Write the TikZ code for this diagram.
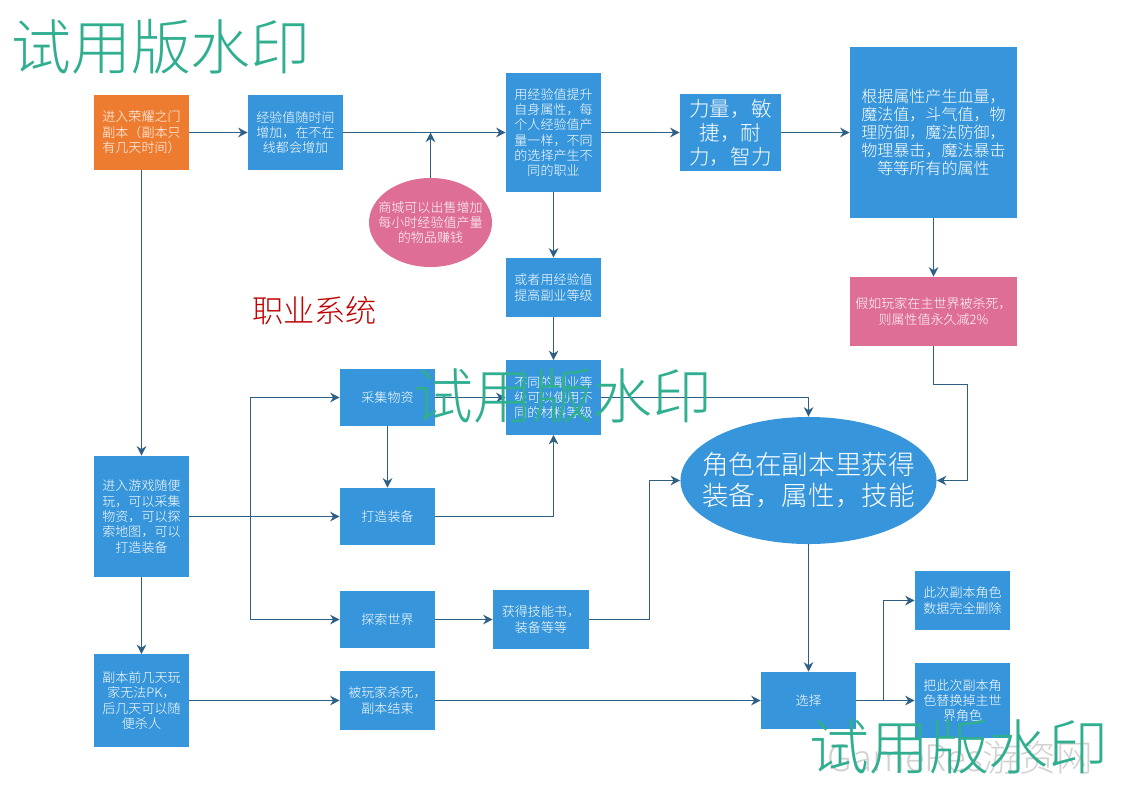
\documentclass[tikz,border=0pt]{standalone}
\usepackage{fontspec}
\setmainfont{Noto Sans CJK SC Light}
\usetikzlibrary{arrows.meta,shapes.geometric}
\definecolor{boxblue}{HTML}{3796DB}
\definecolor{boxorange}{HTML}{EE7C30}
\definecolor{boxpink}{HTML}{DE6E96}
\definecolor{linkblue}{HTML}{2F5F85}
\definecolor{marktext}{HTML}{2FAE90}
\tikzset{
	plainbox/.style={fill=boxblue, text=white, align=center, inner sep=0pt, font=\fontsize{9.25}{10.9}\selectfont},
	link/.style={draw=linkblue, line width=0.3mm, -{Stealth[length=2.4mm,width=2.4mm]}},
	wire/.style={draw=linkblue, line width=0.3mm},
	marknode/.style={text=marktext, font=\fontsize{42.6}{50}\selectfont, inner sep=0pt}
}

\begin{document}
\begin{tikzpicture}[x=0.025cm, y=-0.025cm]
			%%%%% START %%%%%
			
			\useasboundingbox (0, 0) rectangle (1123, 794);
			
			\node[plainbox, fill=boxorange, minimum width=2.375cm, minimum height=1.85cm] (start) at (141.5, 132.5) {进入荣耀之门\\副本（副本只\\有几天时间）};
			\node[plainbox, minimum width=2.375cm, minimum height=1.85cm] (exp) at (295.5, 132.5) {经验值随时间\\增加，在不在\\线都会增加};
			\node[plainbox, fill=boxpink, ellipse, inner sep=-6.5pt, minimum width=3.075cm, minimum height=2.225cm] (shop) at (430.5, 222.5) {商城可以出售增加\\每小时经验值产量\\的物品赚钱};
			\node[plainbox, minimum width=2.375cm, minimum height=2.975cm] (upgrade) at (553.5, 132.5) {用经验值提升\\自身属性，每\\个人经验值产\\量一样，不同\\的选择产生不\\同的职业};
			\node[plainbox, font=\fontsize{14.6}{17}\selectfont, minimum width=2.525cm, minimum height=1.925cm] (attr) at (730.5, 132.5) {力量，敏\\捷，耐\\力，智力};
			\node[plainbox, font=\fontsize{11.4}{12.7}\selectfont, minimum width=4.175cm, minimum height=4.275cm] (props) at (933.5, 132.5) {根据属性产生血量，\\魔法值，斗气值，物\\理防御，魔法防御，\\物理暴击，魔法暴击\\等等所有的属性};
			\node[plainbox, minimum width=2.375cm, minimum height=1.475cm] (sub) at (553.5, 287.5) {或者用经验值\\提高副业等级};
			\node[plainbox, fill=boxpink, minimum width=4.175cm, minimum height=1.725cm] (dead) at (933.5, 311.5) {假如玩家在主世界被杀死，\\则属性值永久减2\%};
			\node[plainbox, minimum width=2.375cm, minimum height=1.85cm] (tier) at (553.5, 397.5) {不同的副业等\\级可以使用不\\同的材料等级};
			\node[plainbox, minimum width=2.375cm, minimum height=1.425cm] (gather) at (387.5, 397.5) {采集物资};
			\node[plainbox, minimum width=2.375cm, minimum height=1.425cm] (craft) at (387.5, 516.5) {打造装备};
			\node[plainbox, minimum width=2.375cm, minimum height=3.025cm] (play) at (141.5, 516.5) {进入游戏随便\\玩，可以采集\\物资，可以探\\索地图，可以\\打造装备};
			\node[plainbox, minimum width=2.375cm, minimum height=1.425cm] (explore) at (387.5, 619.5) {探索世界};
			\node[plainbox, minimum width=2.4cm, minimum height=1.475cm] (book) at (541, 619.5) {获得技能书，\\装备等等};
			\node[plainbox, ellipse, inner xsep=-12pt, font=\fontsize{18.9}{22}\selectfont, minimum width=6.4cm, minimum height=3.175cm] (role) at (808.5, 480.5) {角色在副本里获得\\装备，属性，技能};
			\node[plainbox, minimum width=2.375cm, minimum height=2.3cm] (pk) at (141.5, 700.5) {副本前几天玩\\家无法PK，\\后几天可以随\\便杀人};
			\node[plainbox, minimum width=2.375cm, minimum height=1.475cm] (killed) at (387.5, 700.5) {被玩家杀死，\\副本结束};
			\node[plainbox, minimum width=2.375cm, minimum height=1.425cm] (choose) at (808.5, 700.5) {选择};
			\node[plainbox, minimum width=2.375cm, minimum height=1.475cm] (delete) at (962.5, 600.5) {此次副本角色\\数据完全删除};
			\node[plainbox, minimum width=2.375cm, minimum height=1.85cm] (replace) at (962.5, 700.5) {把此次副本角\\色替换掉主世\\界角色};
			
			\node[text=red!75!black, inner sep=0pt, font=\fontsize{22.2}{26}\selectfont] (title) at (314.5, 311) {职业系统};
			
			\coordinate (playfork) at (250.5, 516.5);
			\coordinate (choosefork) at (883.5, 700.5);
			\coordinate (deadbendA) at (933.5, 384.5);
			\coordinate (deadbendB) at (967.5, 384.5);
			\coordinate (deadbendC) at (967.5, 480.5);
			\coordinate (tierbend) at (808.5, 397.5);
			\coordinate (bookbend) at (649.5, 619.5);
			\coordinate (bookbendB) at (649.5, 480.5);
			
			\draw[link] (start) -- (exp);
			\draw[link] (exp) -- (upgrade.west |- exp);
			\draw[link] (shop) -- (shop |- exp);
			\draw[link] (upgrade) -- (attr);
			\draw[link] (attr) -- (props);
			\draw[link] (upgrade) -- (sub);
			\draw[link] (sub) -- (tier);
			\draw[link] (props) -- (dead);
			\draw[link] (dead.south) -- (deadbendA) -- (deadbendB) -- (deadbendC) -- (role.east |- deadbendC);
			\draw[link] (start) -- (play);
			\draw[link] (play) -- (pk);
			\draw[wire] (play) -- (playfork);
			\draw[link] (playfork) |- (gather);
			\draw[link] (playfork) -- (craft);
			\draw[link] (playfork) |- (explore);
			\draw[link] (gather) -- (craft);
			\draw[link] (gather) -- (tier);
			\draw[link] (craft) -| (tier);
			\draw[link] (tier) -- (tierbend) -- (role.north);
			\draw[link] (explore) -- (book);
			\draw[link] (book) -- (bookbend) -- (bookbendB) -- (role.west |- bookbendB);
			\draw[link] (role) -- (choose);
			\draw[link] (pk) -- (killed);
			\draw[link] (killed) -- (choose);
			\draw[link] (choose) -- (replace);
			\draw[link] (choosefork) |- (delete);
			
			\node[text=black!18, inner sep=0pt, font=\fontsize{26}{30}\selectfont] (credit) at (960, 758) {GameRes游资网};
			
			\node[marknode] (markA) at (161, 47) {试用版水印};
			\node[marknode] (markB) at (563, 396) {试用版水印};
			\node[marknode] (markC) at (959, 747) {试用版水印};
			
			%%%%% END %%%%%
\end{tikzpicture}
\end{document}
